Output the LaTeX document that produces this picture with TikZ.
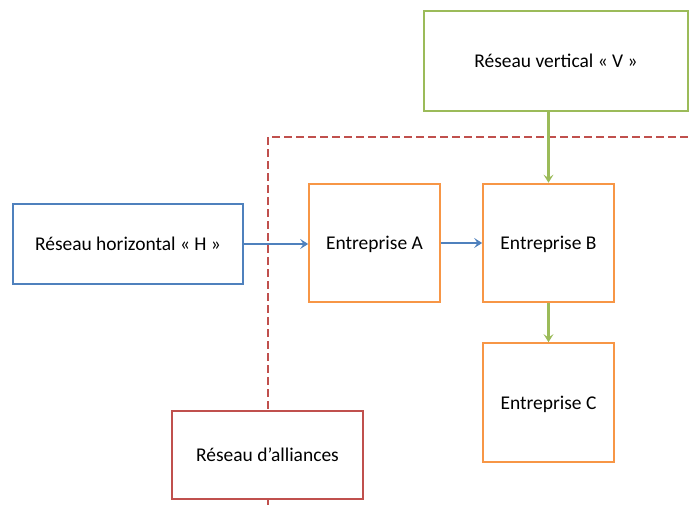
\documentclass[tikz,border=0pt]{standalone}
\usepackage{fontspec}
\setmainfont{Carlito}
\usetikzlibrary{arrows.meta}
\definecolor{cblue}{HTML}{4F81BD}
\definecolor{cgreen}{HTML}{9BBB59}
\definecolor{corange}{HTML}{F79646}
\definecolor{cred}{HTML}{C0504D}
\begin{document}
\begin{tikzpicture}[x=0.75pt,y=-0.75pt,
  box/.style={draw, line width=1.5pt, fill=white, inner sep=0pt, text depth=0pt, font=\fontsize{14.6}{17}\selectfont},
  bluebox/.style={box, draw=cblue, minimum width=172pt, minimum height=60pt},
  greenbox/.style={box, draw=cgreen, minimum width=198pt, minimum height=75pt},
  orangebox/.style={box, draw=corange, minimum width=98pt, minimum height=89pt},
  redbox/.style={box, draw=cred, minimum width=143pt, minimum height=66pt},
  arr/.style={line width=1.8pt, -{Stealth[length=6pt,width=7.5pt,inset=2.5pt]}},
  boundary/.style={draw=cred, line width=1.1pt, dash pattern=on 6pt off 3pt}]
\useasboundingbox (0,0) rectangle (690,505);
\coordinate (dstart) at (268,505);
\coordinate (dcorner) at (268,137);
\coordinate (dend) at (690,137);
\draw[boundary] (dstart) -- (dcorner) -- (dend);
\node[greenbox] (V) at (556,61) {Réseau vertical « V »};
\node[bluebox] (H) at (128,244) {Réseau horizontal « H »};
\node[orangebox] (A) at (374.5,243) {Entreprise A};
\node[orangebox] (B) at (548.5,243) {Entreprise B};
\node[orangebox] (C) at (548.5,402.5) {Entreprise C};
\node[redbox] (R) at (267.5,455) {Réseau d’alliances};
\draw[arr, cblue] (H.east) -- (H.east -| A.west);
\draw[arr, cblue] (A.east) -- (B.west);
\draw[arr, cgreen] (V.south -| B.north) -- (B.north);
\draw[arr, cgreen] (B.south) -- (C.north);
\end{tikzpicture}
\end{document}
